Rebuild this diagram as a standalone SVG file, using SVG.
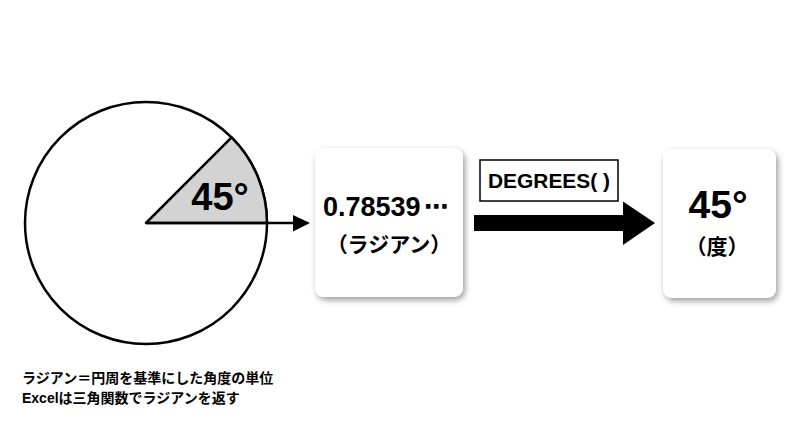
<svg xmlns="http://www.w3.org/2000/svg" width="800" height="447" viewBox="0 0 800 447">
<defs>
<filter id="sh" x="-20%" y="-20%" width="150%" height="150%">
<feGaussianBlur in="SourceAlpha" stdDeviation="3"/>
<feOffset dx="2" dy="3" result="b"/>
<feComponentTransfer><feFuncA type="linear" slope="0.4"/></feComponentTransfer>
<feMerge><feMergeNode/><feMergeNode in="SourceGraphic"/></feMerge>
</filter>
</defs>
<style>
.jp{font-family:"Liberation Sans","Noto Sans CJK JP",sans-serif;font-weight:bold;fill:#000}
.box{fill:#fff;filter:url(#sh)}
</style>
<rect width="800" height="447" fill="#fff"/>
<g id="circle">
<circle cx="146" cy="223" r="121" fill="#fff" stroke="#000" stroke-width="2.5"/>
<path d="M146,223 L231.6,137.4 A121,121 0 0 1 267,223 Z" fill="#d3d3d3" stroke="#000" stroke-width="2.5" stroke-linejoin="round"/>
<text class="jp" x="220" y="210" font-size="38" text-anchor="middle">45°</text>
</g>
<g id="radian">
<rect class="box" x="315" y="148" width="148" height="149" rx="9"/>
<text class="jp" x="323" y="216" font-size="27">0.78539<tspan font-family="'DejaVu Sans',sans-serif" font-size="25" x="424" dy="-1">⋯</tspan></text>
<text class="jp" x="389" y="252" font-size="21" text-anchor="middle">（ラジアン）</text>
</g>
<g id="degree">
<rect class="box" x="663" y="149" width="113" height="149" rx="9"/>
<text class="jp" x="718" y="218" font-size="39" text-anchor="middle">45°</text>
<text class="jp" x="717" y="254" font-size="21" text-anchor="middle">（度）</text>
</g>
<g id="func">
<rect x="480" y="160" width="138" height="41" fill="#fff" stroke="#000" stroke-width="1.5"/>
<text class="jp" x="549" y="188" font-size="20" text-anchor="middle" textLength="122" lengthAdjust="spacingAndGlyphs">DEGREES( )</text>
</g>
<g id="connectors">
<line x1="146" y1="223" x2="296" y2="223" stroke="#000" stroke-width="2.5"/>
<path d="M293,215 L310,223 L293,231.5 Z" fill="#000"/>
<path d="M474,215 L623,215 L623,201.5 L655,223 L623,245 L623,231 L474,231 Z" fill="#000"/>
</g>
<g id="notes">
<text class="jp" x="22" y="383" font-size="14">ラジアン＝円周を基準にした角度の単位</text>
<text class="jp" x="22" y="403" font-size="14">Excelは三角関数でラジアンを返す</text>
</g>
</svg>
